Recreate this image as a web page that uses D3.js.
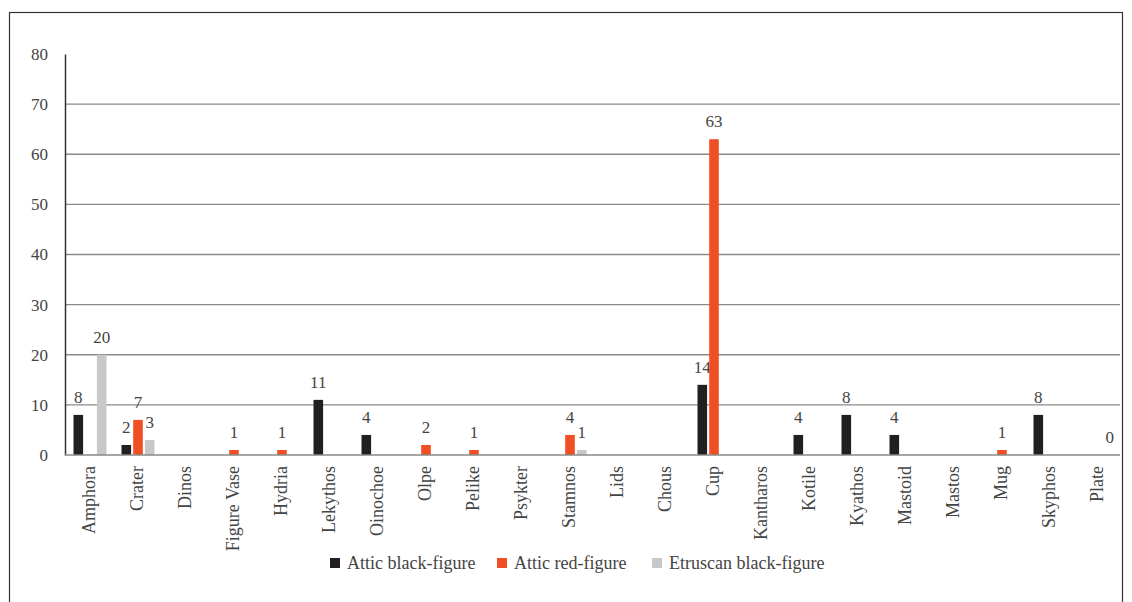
<!DOCTYPE html>
<html><head><meta charset="utf-8">
<script src="https://cdn.jsdelivr.net/npm/d3@7"></script>
<style>body{margin:0;background:#fff}svg{display:block}</style>
</head><body>
<script>
const categories = ["Amphora","Crater","Dinos","Figure Vase","Hydria","Lekythos","Oinochoe","Olpe","Pelike","Psykter","Stamnos","Lids","Chous","Cup","Kantharos","Kotile","Kyathos","Mastoid","Mastos","Mug","Skyphos","Plate"];
const seriesNames = ["Attic black-figure","Attic red-figure","Etruscan black-figure"];
const seriesColors = ["#231f20","#f04e23","#c8c8c8"];
const atticBlack = [8,2,null,null,null,11,4,null,null,null,null,null,null,14,null,4,8,4,null,null,8,null];
const atticRed   = [null,7,null,1,1,null,null,2,1,null,4,null,null,63,null,null,null,null,null,1,null,null];
const etruscan   = [20,3,null,null,null,null,null,null,null,null,1,null,null,null,null,null,null,null,null,null,null,0];
const yTicks = [0,10,20,30,40,50,60,70,80];

const W = 1132, H = 602;
const font = "Liberation Serif";
const fs = 18, fsNum = 17;
const svg = d3.select("body").append("svg").attr("width", W).attr("height", H);

svg.append("rect").attr("x",9.5).attr("y",12.5).attr("width",1113).attr("height",600)
  .attr("fill","none").attr("stroke","#333").attr("stroke-width",1.2);

const x0 = d3.scaleBand().domain(categories).range([65,1121]);
const x1 = d3.scaleBand().domain([0,1,2]).range([-15.5,17.5]).paddingInner(0.18);
const y = d3.scaleLinear().domain([0,80]).range([455,54]);

svg.append("g").selectAll("line").data(yTicks.filter(t=>t>0 && t<80)).join("line")
  .attr("x1",65).attr("x2",1120).attr("y1",d=>y(d)).attr("y2",d=>y(d))
  .attr("stroke","#8a8a8a").attr("stroke-width",1.3);

const yAxis = d3.axisLeft(y).tickValues(yTicks).tickSize(0).tickPadding(17);
const gy = svg.append("g").attr("transform","translate(65,0)").call(yAxis);
gy.attr("font-family",font).attr("font-size",fsNum);
gy.select(".domain").attr("stroke","#333").attr("stroke-width",1.5);
gy.selectAll("text").attr("font-family",font).attr("font-size",fsNum).attr("fill","#444");

const series = [atticBlack, atticRed, etruscan];
series.forEach((vals, si) => {
  const data = categories.map((c,i)=>({c, v: vals[i]})).filter(d=>d.v!==null);
  svg.append("g").selectAll("rect").data(data.filter(d=>d.v>0)).join("rect")
    .attr("x", d=>x0(d.c)+x0.bandwidth()/2 + x1(si))
    .attr("width", x1.bandwidth())
    .attr("y", d=>y(d.v))
    .attr("height", d=>y(0)-y(d.v))
    .attr("fill", seriesColors[si]);
  svg.append("g").selectAll("text").data(data).join("text")
    .attr("x", d=>x0(d.c)+x0.bandwidth()/2 + x1(si) + x1.bandwidth()/2)
    .attr("y", d=>y(d.v)-12)
    .attr("text-anchor","middle")
    .attr("font-family",font).attr("font-size",fsNum).attr("fill","#444")
    .text(d=>d.v);
});

svg.append("line").attr("x1",65).attr("x2",1120).attr("y1",y(0)).attr("y2",y(0))
  .attr("stroke","#8a8a8a").attr("stroke-width",1.5);

svg.append("g").selectAll("text").data(categories).join("text")
  .attr("transform", d=>`translate(${x0(d)+x0.bandwidth()/2},466) rotate(-90)`)
  .attr("dy","0.32em")
  .attr("text-anchor","end")
  .attr("font-family",font).attr("font-size",fs).attr("fill","#444")
  .text(d=>d);

const legX = [330,497,652];
const lg = svg.append("g");
seriesNames.forEach((n,i)=>{
  lg.append("rect").attr("x",legX[i]).attr("y",558).attr("width",10).attr("height",10).attr("fill",seriesColors[i]);
  lg.append("text").attr("x",legX[i]+17).attr("y",569).attr("font-family",font).attr("font-size",fs).attr("fill","#444").text(n);
});
</script>
</body></html>
